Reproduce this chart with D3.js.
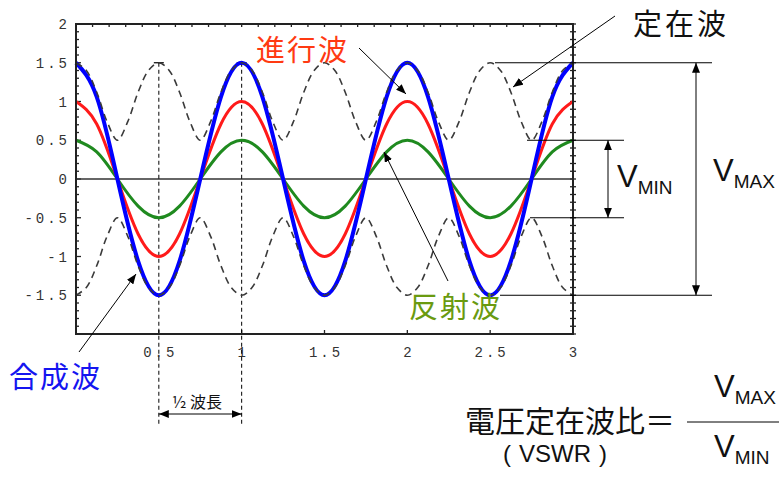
<!DOCTYPE html>
<html>
<head>
<meta charset="utf-8">
<script src="https://cdn.jsdelivr.net/npm/d3@7"></script>
<style>
  html, body { margin: 0; padding: 0; background: #fff; }
  svg { display: block; }
  .tick-label { font-family: "Liberation Mono", "DejaVu Sans Mono", monospace; font-size: 14px; fill: #333; letter-spacing: 3px; }
  .jp { font-family: "Noto Sans CJK JP", sans-serif; }
  .lat { font-family: "Liberation Sans", Arial, sans-serif; }
</style>
</head>
<body>
<svg id="chart" width="779" height="480"></svg>
<script>
// Standing wave diagram: incident + reflected = composite, with envelope

// sample positions (wavelengths) for the three sine curves
const xs = [0, 0.125, 0.25, 0.375, 0.5, 0.625, 0.75, 0.875, 1, 1.125, 1.25, 1.375, 1.5,
  1.625, 1.75, 1.875, 2, 2.125, 2.25, 2.375, 2.5, 2.625, 2.75, 2.875, 3];
// 進行波 (incident, red)
const incident = [1, 0.71, 0, -0.71, -1, -0.71, 0, 0.71, 1, 0.71, 0, -0.71, -1,
  -0.71, 0, 0.71, 1, 0.71, 0, -0.71, -1, -0.71, 0, 0.71, 1];
// 反射波 (reflected, green)
const reflected = [0.5, 0.35, 0, -0.35, -0.5, -0.35, 0, 0.35, 0.5, 0.35, 0, -0.35, -0.5,
  -0.35, 0, 0.35, 0.5, 0.35, 0, -0.35, -0.5, -0.35, 0, 0.35, 0.5];
// 合成波 (composite, blue)
const composite = [1.5, 1.06, 0, -1.06, -1.5, -1.06, 0, 1.06, 1.5, 1.06, 0, -1.06, -1.5,
  -1.06, 0, 1.06, 1.5, 1.06, 0, -1.06, -1.5, -1.06, 0, 1.06, 1.5];

// 定在波 envelope (dashed), finer sampling
const envX = [0, 0.0625, 0.125, 0.1875, 0.25, 0.3125, 0.375, 0.4375, 0.5, 0.5625, 0.625, 0.6875,
  0.75, 0.8125, 0.875, 0.9375, 1, 1.0625, 1.125, 1.1875, 1.25, 1.3125, 1.375, 1.4375, 1.5,
  1.5625, 1.625, 1.6875, 1.75, 1.8125, 1.875, 1.9375, 2, 2.0625, 2.125, 2.1875, 2.25, 2.3125,
  2.375, 2.4375, 2.5, 2.5625, 2.625, 2.6875, 2.75, 2.8125, 2.875, 2.9375, 3];
const envUpper = [1.5, 1.4, 1.12, 0.74, 0.5, 0.74, 1.12, 1.4, 1.5, 1.4, 1.12, 0.74,
  0.5, 0.74, 1.12, 1.4, 1.5, 1.4, 1.12, 0.74, 0.5, 0.74, 1.12, 1.4, 1.5,
  1.4, 1.12, 0.74, 0.5, 0.74, 1.12, 1.4, 1.5, 1.4, 1.12, 0.74, 0.5, 0.74,
  1.12, 1.4, 1.5, 1.4, 1.12, 0.74, 0.5, 0.74, 1.12, 1.4, 1.5];
const envLower = [-1.5, -1.4, -1.12, -0.74, -0.5, -0.74, -1.12, -1.4, -1.5, -1.4, -1.12, -0.74,
  -0.5, -0.74, -1.12, -1.4, -1.5, -1.4, -1.12, -0.74, -0.5, -0.74, -1.12, -1.4, -1.5,
  -1.4, -1.12, -0.74, -0.5, -0.74, -1.12, -1.4, -1.5, -1.4, -1.12, -0.74, -0.5, -0.74,
  -1.12, -1.4, -1.5, -1.4, -1.12, -0.74, -0.5, -0.74, -1.12, -1.4, -1.5];

// tick labels
const xTicks = [0.5, 1, 1.5, 2, 2.5, 3];
const xTickLabels = ['0.5', '1', '1.5', '2', '2.5', '3'];
const yTicks = [2, 1.5, 1, 0.5, 0, -0.5, -1, -1.5];
const yTickLabels = ['2', '1.5', '1', '0.5', '0', '-0.5', '-1', '-1.5'];

const svg = d3.select('#chart');

const x = d3.scaleLinear().domain([0, 3]).range([76, 573]);
const y = d3.scaleLinear().domain([-2, 2]).range([334, 24]);

// arrowhead markers
const defs = svg.append('defs');
defs.append('marker')
  .attr('id', 'arr')
  .attr('viewBox', '0 0 10 8')
  .attr('refX', 10).attr('refY', 4)
  .attr('markerWidth', 10).attr('markerHeight', 8)
  .attr('markerUnits', 'userSpaceOnUse')
  .attr('orient', 'auto-start-reverse')
  .append('path').attr('d', 'M0,0L10,4L0,8Z').attr('fill', '#000');

// frame ticks (inward, minor every 0.1)
const g = svg.append('g');
const minorY = d3.range(-20, 21).map(d => d / 10);
const minorX = d3.range(0, 31).map(d => d / 10);

g.selectAll('.ly').data(minorY).join('line')
  .attr('x1', x(0)).attr('x2', d => x(0) + (Math.abs(d * 2 - Math.round(d * 2)) < 1e-6 ? 5 : 3))
  .attr('y1', d => y(d)).attr('y2', d => y(d))
  .attr('stroke', '#222').attr('stroke-width', 1.3);
g.selectAll('.ry').data(minorY).join('line')
  .attr('x1', x(3) - 3).attr('x2', x(3) + 3)
  .attr('y1', d => y(d)).attr('y2', d => y(d))
  .attr('stroke', '#222').attr('stroke-width', 1.3);
g.selectAll('.tx').data(minorX).join('line')
  .attr('x1', d => x(d)).attr('x2', d => x(d))
  .attr('y1', y(2)).attr('y2', y(2) + 3)
  .attr('stroke', '#222').attr('stroke-width', 1.3);
g.selectAll('.bx').data(xTicks).join('line')
  .attr('x1', d => x(d)).attr('x2', d => x(d))
  .attr('y1', y(-2)).attr('y2', y(-2) - 4)
  .attr('stroke', '#222').attr('stroke-width', 1.3);

// tick labels
g.selectAll('.xl').data(xTicks).join('text')
  .attr('class', 'tick-label')
  .attr('x', d => x(d) + 1.5)
  .attr('y', 357)
  .attr('text-anchor', 'middle')
  .text((d, i) => xTickLabels[i]);
g.selectAll('.yl').data(yTicks).join('text')
  .attr('class', 'tick-label')
  .attr('x', 70)
  .attr('y', d => y(d) + 5)
  .attr('text-anchor', 'end')
  .text((d, i) => yTickLabels[i]);

// zero line
g.append('line')
  .attr('x1', x(0)).attr('x2', x(3)).attr('y1', y(0)).attr('y2', y(0))
  .attr('stroke', '#333').attr('stroke-width', 1.6);

// half-wavelength guides
[0.5, 1].forEach(v => {
  g.append('line')
    .attr('x1', x(v)).attr('x2', x(v)).attr('y1', y(1.5)).attr('y2', 424)
    .attr('stroke', '#000').attr('stroke-width', 1).attr('stroke-dasharray', '4,3');
  g.append('line')
    .attr('x1', x(v) - 5).attr('x2', x(v) + 5).attr('y1', y(1.5)).attr('y2', y(1.5))
    .attr('stroke', '#000').attr('stroke-width', 1.2);
});

// curves
const line = d3.line().x(d => x(d[0])).y(d => y(d[1])).curve(d3.curveNatural);
const curves = [
  { vals: reflected, color: '#1f8a1f', w: 3 },
  { vals: incident, color: '#ff1a1a', w: 3 },
  { vals: composite, color: '#0000ff', w: 4 }
];
curves.forEach(c => {
  g.append('path')
    .datum(xs.map((v, i) => [v, c.vals[i]]))
    .attr('d', line)
    .attr('fill', 'none')
    .attr('stroke', c.color)
    .attr('stroke-width', c.w)
    .attr('stroke-linejoin', 'round');
});

const envLine = d3.line().x(d => x(d[0])).y(d => y(d[1])).curve(d3.curveCatmullRom.alpha(0.5));
[envUpper, envLower].forEach(arr => {
  g.append('path')
    .datum(envX.map((v, i) => [v, arr[i]]))
    .attr('d', envLine)
    .attr('fill', 'none')
    .attr('stroke', '#3a3a3a')
    .attr('stroke-width', 1.6)
    .attr('stroke-dasharray', '7,5');
});

// frame
g.append('rect')
  .attr('x', x(0)).attr('y', y(2))
  .attr('width', x(3) - x(0)).attr('height', y(-2) - y(2))
  .attr('fill', 'none').attr('stroke', '#222').attr('stroke-width', 2);

// annotations
const ann = svg.append('g');
function arrow(x1, y1, x2, y2, both) {
  const l = ann.append('line')
    .attr('x1', x1).attr('y1', y1).attr('x2', x2).attr('y2', y2)
    .attr('stroke', '#000').attr('stroke-width', 1)
    .attr('marker-end', 'url(#arr)');
  if (both) l.attr('marker-start', 'url(#arr)');
}
function hline(x1, x2, yy) {
  ann.append('line').attr('x1', x1).attr('x2', x2).attr('y1', yy).attr('y2', yy)
    .attr('stroke', '#000').attr('stroke-width', 1);
}

arrow(359, 48, 406, 94);          // 進行波
arrow(615, 16, 513, 87);          // 定在波
arrow(448, 281, 384, 152);        // 反射波
arrow(79, 352, 136, 274);         // 合成波

hline(495, 712, y(1.5));
hline(500, 712, y(-1.5));
hline(527, 624, y(0.5));
hline(530, 624, y(-0.5));
arrow(696, y(1.5), 696, y(-1.5), true);
arrow(608, y(0.5), 608, y(-0.5), true);
arrow(x(0.5), 414, x(1), 414, true);

function label(txt, xx, yy, color, size, spacing) {
  ann.append('text').attr('class', 'jp')
    .attr('x', xx).attr('y', yy)
    .attr('fill', color).attr('font-size', size)
    .attr('letter-spacing', spacing || 0)
    .text(txt);
}
label('進行波', 256, 61, '#ff3a12', 29, 2);
label('定在波', 633, 35, '#111', 29, 3);
label('反射波', 409, 318, '#6a9a10', 29, 2);
label('合成波', 9, 388, '#1515f0', 29, 2);
label('電圧定在波比＝', 465, 432, '#111', 30, 0);

ann.append('text').attr('class', 'jp')
  .attr('x', 197).attr('y', 408).attr('text-anchor', 'middle')
  .attr('font-size', 16).attr('fill', '#111').text('½ 波長');

// (VSWR) in a Latin face, parens spaced like full-width ones
const vswr = ann.append('text').attr('class', 'lat')
  .attr('x', 555).attr('y', 462).attr('text-anchor', 'middle')
  .attr('font-size', 24).attr('fill', '#111');
vswr.append('tspan').text('(');
vswr.append('tspan').attr('dx', 8).text('VSWR');
vswr.append('tspan').attr('dx', 8).text(')');

function vsub(sub, xx, yy) {
  const t = ann.append('text').attr('class', 'lat')
    .attr('x', xx).attr('y', yy).attr('fill', '#111');
  t.append('tspan').attr('font-size', 31).text('V');
  t.append('tspan').attr('font-size', 19).attr('dy', 7).text(sub);
}
vsub('MIN', 617, 187);
vsub('MAX', 713, 181);
vsub('MAX', 714, 397);
vsub('MIN', 714, 457);

// fraction bar
hline(687, 779, 422);
</script>
</body>
</html>
